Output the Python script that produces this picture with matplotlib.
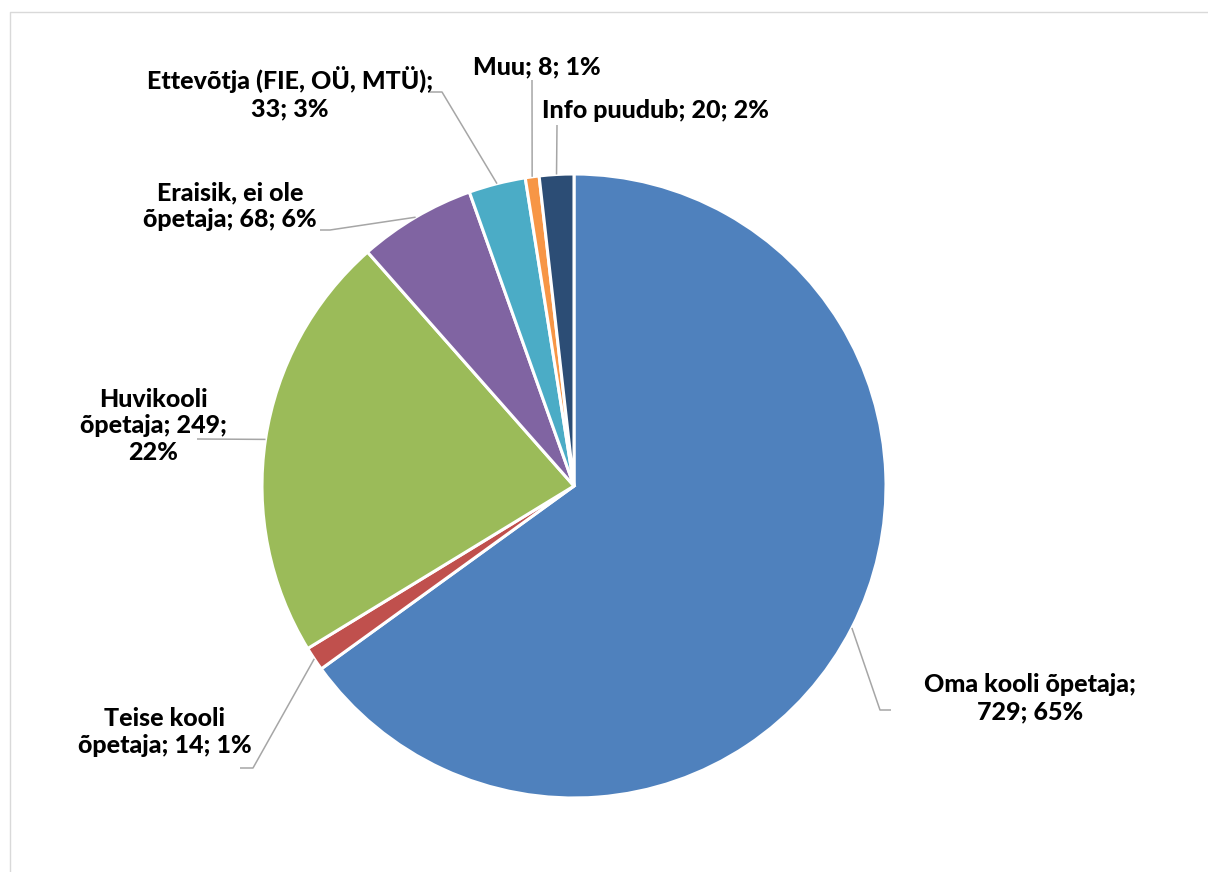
import matplotlib
matplotlib.use("Agg")
import matplotlib.pyplot as plt
import numpy as np

labels = ["Oma kooli õpetaja", "Teise kooli õpetaja", "Huvikooli õpetaja",
          "Eraisik, ei ole õpetaja", "Ettevõtja (FIE, OÜ, MTÜ)", "Muu", "Info puudub"]
values = [729, 14, 249, 68, 33, 8, 20]
percents = [65, 1, 22, 6, 3, 1, 2]
colors = ["#4F81BD", "#C0504D", "#9BBB59", "#8064A2", "#4BACC6", "#F79646", "#2C4D75"]
label_texts = ["Oma kooli õpetaja;\n729; 65%",
               "Teise kooli\nõpetaja; 14; 1%",
               "Huvikooli\nõpetaja; 249;\n22%",
               "Eraisik, ei ole\nõpetaja; 68; 6%",
               "Ettevõtja (FIE, OÜ, MTÜ);\n33; 3%",
               "Muu; 8; 1%",
               "Info puudub; 20; 2%"]

W, H = 1208, 872
def Y(y):
    return H - y

# layout (pixel coordinates in image space)
cx, cy, R = 574, 486, 312
text_pos = [(1030, 698), (165, 732), (153, 426), (230, 206), (290, 93), (537, 67), (655, 110)]
leader_pts = [[(880, 710), (891, 710)],
              [(253, 768), (240, 768)],
              [(197, 439)],
              [(330, 230), (320, 230)],
              [(442, 92), (428, 92)],
              [(532, 80)],
              [(557, 125)]]

fig = plt.figure(figsize=(W / 100, H / 100), dpi=100)
ax = fig.add_axes([0, 0, 1, 1])
ax.pie(values, colors=colors, startangle=90, counterclock=False,
       center=(cx, Y(cy)), radius=R,
       wedgeprops=dict(edgecolor="white", linewidth=2.2))
ax.set_xlim(0, W)
ax.set_ylim(0, H)
ax.set_aspect("equal")
ax.axis("off")

# figure border
ax.plot([9.5, 9.5, W + 5], [-5, Y(12.5), Y(12.5)], color="#d9d9d9", lw=1.0, clip_on=False)

total = sum(values)
cum = np.cumsum([0] + values[:-1])
for i, v in enumerate(values):
    theta = np.deg2rad(360 * (cum[i] + v / 2) / total)
    sx = cx + R * np.sin(theta)
    sy = cy - R * np.cos(theta)
    pts = [(sx, sy)] + leader_pts[i]
    ax.plot([p[0] for p in pts], [Y(p[1]) for p in pts], color="#a6a6a6", lw=1.1,
            solid_capstyle="butt")
    tx, ty = text_pos[i]
    ax.text(tx, Y(ty), label_texts[i], ha="center", va="center", fontsize=18,
            fontweight=900, family="Lato", color="black", linespacing=1.2)

fig.savefig("out.png", dpi=100, facecolor="white")
